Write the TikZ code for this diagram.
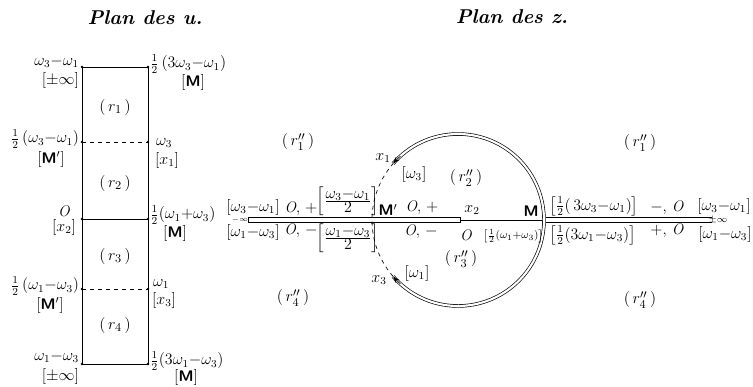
\documentclass[tikz,border=0pt]{standalone}
\usepackage{amsmath}
\usetikzlibrary{arrows.meta}
\newcommand{\zo}{\textit{O}}
\newcommand{\Mpt}{\textsf{\bfseries M}}
\begin{document}
\begin{tikzpicture}[x=0.75pt,y=-0.75pt,>={Stealth[length=5pt,width=3.5pt]},line width=0.5pt,
  every node/.style={inner sep=0.5pt,font=\fontsize{11.5}{13}\selectfont},
  ttl/.style={font=\fontsize{15}{17}\selectfont\bfseries\itshape},
  reg/.style={font=\fontsize{13}{15}\selectfont},
  dbl/.style={double,double distance=1.6pt},
  slit/.style={double,double distance=3.2pt}]
\useasboundingbox (0,0) rectangle (753,386);

\node[ttl] (ut) at (145,18) {Plan des u.};
\node[ttl] (zt) at (512,17) {Plan des z.};

\coordinate (u1l) at (82,67);  \coordinate (u1r) at (148,67);
\coordinate (u2l) at (82,142); \coordinate (u2r) at (148,142);
\coordinate (u3l) at (82,219); \coordinate (u3r) at (148,219);
\coordinate (u4l) at (82,289); \coordinate (u4r) at (148,289);
\coordinate (u5l) at (82,364); \coordinate (u5r) at (148,364);
\draw (u1l) rectangle (u5r);
\draw (u3l) -- (u3r);
\draw[dashed] (u2l) -- (u2r) (u4l) -- (u4r);
\foreach \p in {u1l,u1r,u2l,u2r,u3l,u3r,u4l,u4r,u5l,u5r}
  \fill (\p) circle[radius=1.3];

\node[reg] (r1) at (115,107) {$(\,r_1\,)$};
\node[reg] (r2) at (115,183) {$(\,r_2\,)$};
\node[reg] (r3) at (115,256) {$(\,r_3\,)$};
\node[reg] (r4) at (115,325) {$(\,r_4\,)$};

\node[anchor=east] (a1) at (80,62) {$\omega_3{-}\omega_1$};
\node[anchor=east] (a2) at (80,80) {$[\pm\infty]$};
\node[anchor=west] (b1) at (149,64) {$\frac12\,(3\omega_3{-}\omega_1)$};
\node (b2) at (193,82) {$[$\Mpt$]$};
\node[anchor=east] (c1) at (80,139) {$\frac12\,(\omega_3{-}\omega_1)$};
\node (c2) at (51,159) {$[$\Mpt$']$};
\node[anchor=west] (d1) at (155,143) {$\omega_3$};
\node (d2) at (167,160) {$[x_1]$};
\node (e1) at (64,211) {\zo};
\node (e2) at (64,227) {$[x_2]$};
\node[anchor=west] (f1) at (149,215) {$\frac12(\omega_1{+}\omega_3)$};
\node (f2) at (175,233) {$[$\Mpt$]$};
\node[anchor=east] (g1) at (80,286) {$\frac12\,(\omega_1{-}\omega_3)$};
\node (g2) at (50,305) {$[$\Mpt$']$};
\node[anchor=west] (h1) at (152,284) {$\omega_1$};
\node (h2) at (164,300) {$[x_3]$};
\node[anchor=east] (i1) at (80,357) {$\omega_1{-}\omega_3$};
\node[anchor=east] (i2) at (80,376) {$[\pm\infty]$};
\node[anchor=west] (j1) at (149,361) {$\frac12(3\omega_1{-}\omega_3)$};
\node (j2) at (186,377) {$[$\Mpt$]$};

\coordinate (C) at (458,220);
\draw (248,217.5) rectangle (460,222.5);
\draw (460,220) -- (543,220);
\draw[slit] (545.5,220) -- (712,220);
\draw[dbl] ([shift={(-139:86)}]C) arc[start angle=-139,end angle=139,radius=86];
\draw[dashed] ([shift={(139:86)}]C) arc[start angle=139,end angle=221,radius=86];
\draw[->] ([shift={(-132:86)}]C) arc[start angle=-132,end angle=-139,radius=86];
\draw[->] ([shift={(132:86)}]C) arc[start angle=132,end angle=139,radius=86];

\node[reg] (q1) at (298,142) {$(\,r''_1\,)$};
\node[reg] (q2) at (640,143) {$(\,r''_1\,)$};
\node[reg] (q3) at (466,178) {$(\,r''_2\,)$};
\node[reg] (q4) at (461,259) {$(\,r''_3\,)$};
\node[reg] (q5) at (293,298) {$(\,r''_4\,)$};
\node[reg] (q6) at (640,300) {$(\,r''_4\,)$};

\node (n1) at (383,158) {$x_1$};
\node (n2) at (414,174) {$[\omega_3]$};
\node (n3) at (379,280) {$x_3$};
\node (n4) at (417,273) {$[\omega_1]$};

\node (m1) at (253,207) {$[\omega_3{-}\omega_1]$};
\node[font=\tiny] (m2) at (240,219.5) {$-\infty$};
\node (m3) at (253,232) {$[\omega_1{-}\omega_3]$};
\node (m4) at (301,209) {\zo, $+$};
\node (m5) at (301,231) {\zo, $-$};
\node[anchor=south] (m6) at (348,217) {$\left[\frac{\displaystyle\omega_3{-}\omega_1}{\displaystyle 2}\right]$};
\node[anchor=north] (m7) at (348,223) {$\left[\frac{\displaystyle\omega_1{-}\omega_3}{\displaystyle 2}\right]$};
\node (m8) at (388,210) {\Mpt$'$};
\node (m9) at (422,208) {\zo, $+$};
\node (m10) at (421,232) {\zo, $-$};
\node (m11) at (472,210) {$x_2$};
\node (m12) at (531,211) {\Mpt};
\node (m13) at (466,235) {\zo};
\node[font=\footnotesize] (m14) at (513,236) {$\left[\frac12(\omega_1{+}\omega_3)\right]$};
\node[anchor=west] (m15) at (548,206) {$\left[\frac12(\,3\omega_3{-}\omega_1)\right]$};
\node[anchor=west] (m16) at (548,235) {$\left[\frac12(3\omega_1{-}\omega_3)\right]$};
\node (m17) at (667,208) {$-$, \zo};
\node (m18) at (667,231) {$+$, \zo};
\node (m19) at (724,206) {$[\omega_3{-}\omega_1]$};
\node[font=\scriptsize] (m20) at (718,220) {$\pm\infty$};
\node (m21) at (725,234) {$[\omega_1{-}\omega_3]$};
\end{tikzpicture}
\end{document}
